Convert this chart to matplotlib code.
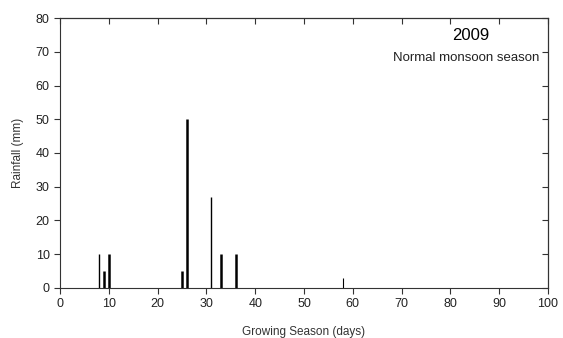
import matplotlib.pyplot as plt

plt.rcParams['font.family'] = ['Liberation Sans', 'DejaVu Sans']

# rainfall events during the growing season
days = [8, 9, 10, 25, 26, 31, 33, 36, 58]
rain = [10, 5, 10, 5, 50, 27, 10, 10, 3]
widths = [1, 1.8, 1.8, 1.8, 1.8, 1, 1.8, 1.8, 0.8]

xticks = list(range(0, 101, 10))
yticks = list(range(0, 81, 10))

fig = plt.figure(figsize=(5.63, 3.38), dpi=100)
ax = fig.add_axes([0.1066, 0.148, 0.8668, 0.7987])

ax.vlines(days, 0, rain, colors='black', linewidths=widths)

ax.set_xlim(0, 100)
ax.set_ylim(0, 80)
ax.set_xticks(xticks)
ax.set_yticks(yticks)
ax.tick_params(axis='both', labelsize=9, colors='#333333', labelcolor='#222222',
               length=4, width=0.8, direction='out')

# inward ticks on top and right
secx = ax.secondary_xaxis('top')
secx.set_xticks(xticks)
secx.set_xticklabels([])
secx.tick_params(direction='in', length=4, width=0.8, colors='#333333')
secy = ax.secondary_yaxis('right')
secy.set_yticks(yticks)
secy.set_yticklabels([])
secy.tick_params(direction='in', length=4, width=0.8, colors='#333333')

for s in ax.spines.values():
    s.set_linewidth(0.8)
    s.set_color('#333333')

ax.set_xlabel('Growing Season (days)', fontsize=8.5, color='#333333', labelpad=11)
ax.set_ylabel('Rainfall (mm)', fontsize=8.5, color='#333333', labelpad=8)

ax.text(0.842, 0.935, '2009', transform=ax.transAxes, fontsize=12,
        ha='center', va='center')
ax.text(0.832, 0.853, 'Normal monsoon season', transform=ax.transAxes,
        fontsize=9.5, ha='center', va='center', color='#222222')

fig.savefig('out.png', dpi=100)
